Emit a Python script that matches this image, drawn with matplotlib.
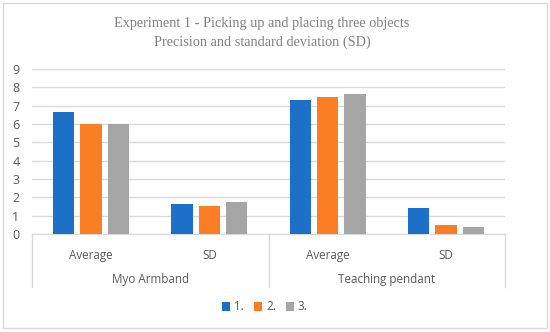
import matplotlib
matplotlib.use("Agg")
import matplotlib.pyplot as plt
import numpy as np
from matplotlib.patches import Rectangle
from matplotlib.lines import Line2D
import matplotlib.transforms as mtransforms

categories = ["Average", "SD", "Average", "SD"]
groups = ["Myo Armband", "Teaching pendant"]
series_names = ["1.", "2.", "3."]
s1 = [6.63, 1.62, 7.31, 1.42]
s2 = [6.0, 1.52, 7.47, 0.48]
s3 = [6.0, 1.74, 7.62, 0.39]
colors = ["#1C70C8", "#FB7E24", "#A5A5A5"]

FS = 8.4
fig = plt.figure(figsize=(5.5, 3.32), dpi=100)
fig.patch.set_facecolor("white")
fig.add_artist(Rectangle((0.006, 0.012), 0.988, 0.978, transform=fig.transFigure,
                         fill=False, edgecolor="#D9D9D9", linewidth=1.0))

ax = fig.add_axes([32/550, (332-234)/332, (505-32)/550, 165/332])
x = np.arange(len(categories))
w = 0.18
step = 0.232
for i, (vals, c, n) in enumerate(zip([s1, s2, s3], colors, series_names)):
    ax.bar(x + (i-1)*step, vals, width=w, color=c, label=n, zorder=3)

ax.set_xlim(-0.5, 3.5)
ax.set_ylim(0, 9)
ax.set_yticks(range(10))
ax.yaxis.grid(True, color="#D9D9D9", linewidth=1.0, zorder=0)
for s in ["top", "right", "left"]:
    ax.spines[s].set_visible(False)
ax.spines["bottom"].set_color("#D9D9D9")
ax.tick_params(axis="y", length=0, labelsize=FS + 0.6, labelcolor="#595959", pad=9)
ax.set_xticks(x)
ax.set_xticklabels(categories)
ax.tick_params(axis="x", length=0, labelsize=FS, labelcolor="#595959", pad=11)
for lab in ax.get_xticklabels() + ax.get_yticklabels():
    lab.set_fontfamily("Open Sans")

# category box lines
for xa in [0, 0.5, 1]:
    ax.add_line(Line2D([xa, xa], [0, -53/165], transform=ax.transAxes,
                       color="#D9D9D9", linewidth=1.0, clip_on=False))
trans = mtransforms.blended_transform_factory(ax.transData, ax.transAxes)
for gi, g in enumerate(groups):
    ax.text(gi*2 + 0.5, -(279-234)/165, g, transform=trans, ha="center", va="center",
            fontsize=FS, color="#595959", fontfamily="Open Sans")

fig.text(262/550, (332-24)/332, "Experiment 1 - Picking up and placing three objects",
         ha="center", va="center", fontsize=10.3, color="#808080", fontfamily="Liberation Serif")
fig.text(262/550, (332-42)/332, "Precision and standard deviation (SD)",
         ha="center", va="center", fontsize=10.3, color="#808080", fontfamily="Liberation Serif")

leg = fig.legend(loc="center", bbox_to_anchor=(265/550, (332-307)/332), ncol=3, frameon=False,
                 handlelength=0.7, handleheight=0.7, handletextpad=0.3, columnspacing=0.9,
                 prop={"family": "Open Sans", "size": FS})
for t in leg.get_texts():
    t.set_color("#595959")

fig.savefig("out.png", dpi=100)
